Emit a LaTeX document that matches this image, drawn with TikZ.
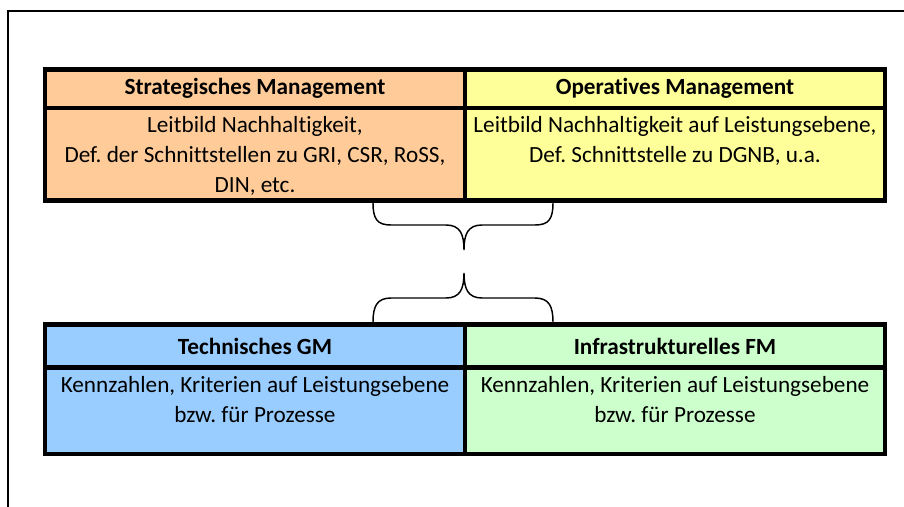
\documentclass[tikz,border=0pt]{standalone}
\usepackage{fontspec}
\setmainfont{Carlito}[Ligatures=NoCommon]
\usetikzlibrary{positioning}
\definecolor{peach}{HTML}{FFCC99}
\definecolor{paleyellow}{HTML}{FFFF99}
\definecolor{skyblue}{HTML}{99CCFF}
\definecolor{palegreen}{HTML}{CCFFCC}
\frenchspacing

\begin{document}
\begin{tikzpicture}[x=0.75pt,y=-0.75pt,
    cell/.style={draw,line width=3.4pt,minimum width=315pt,inner sep=0pt},
    headfont/.style={font=\fontsize{17.4}{22.5}\selectfont\bfseries},
    bodytext/.style={align=center,inner sep=0pt,font=\fontsize{17.4}{22.5}\selectfont},
    brace/.style={line width=1.1pt}]
      \def\leftcol{255}
      \def\rightcol{675}

      \useasboundingbox (0,0) rectangle (904,507);
      \draw[line width=1.5pt] (904,11) -- (8,11) -- (8,507);

      % upper table
      \node[cell,fill=peach,minimum height=28.9pt,headfont] (strat) at (\leftcol,88.75) {Strategisches Management};
      \node[cell,fill=paleyellow,minimum height=28.9pt,headfont] (oper) at (\rightcol,88.75) {Operatives Management};
      \node[cell,fill=peach,minimum height=69.4pt] (stratbody) at (\leftcol,154.25) {};
      \node[cell,fill=paleyellow,minimum height=69.4pt] (operbody) at (\rightcol,154.25) {};
      \node[bodytext,below=8pt of stratbody.north] (strattext) {Leitbild Nachhaltigkeit,\\Def. der Schnittstellen zu GRI, CSR, RoSS,\\DIN, etc.};
      \node[bodytext,below=8pt of operbody.north] (opertext) {Leitbild Nachhaltigkeit auf Leistungsebene,\\Def. Schnittstelle zu DGNB, u.a.};

      % lower table
      \node[cell,fill=skyblue,minimum height=32.25pt,headfont] (tech) at (\leftcol,346) {Technisches GM};
      \node[cell,fill=palegreen,minimum height=32.25pt,headfont] (infra) at (\rightcol,346) {Infrastrukturelles FM};
      \node[cell,fill=skyblue,minimum height=64.9pt] (techbody) at (\leftcol,410.75) {};
      \node[cell,fill=palegreen,minimum height=64.9pt] (infrabody) at (\rightcol,410.75) {};
      \node[bodytext,below=8pt of techbody.north] (techtext) {Kennzahlen, Kriterien auf Leistungsebene\\bzw. für Prozesse};
      \node[bodytext,below=8pt of infrabody.north] (infratext) {Kennzahlen, Kriterien auf Leistungsebene\\bzw. für Prozesse};

      % braces
      \coordinate (uptip) at (464,250);
      \coordinate (lowtip) at (464,273);
      \draw[brace] (stratbody.south -| 373,0) .. controls +(0,16) and +(-14,0) .. (391,225) -- (446,225)
        .. controls +(14,0) and +(0,-16) .. (uptip)
        .. controls +(0,-16) and +(-14,0) .. (482,225) -- (535,225)
        .. controls +(14,0) and +(0,16) .. (operbody.south -| 553,0);
      \draw[brace] (tech.north -| 373,0) .. controls +(0,-16) and +(-14,0) .. (391,298) -- (446,298)
        .. controls +(14,0) and +(0,16) .. (lowtip)
        .. controls +(0,16) and +(-14,0) .. (482,298) -- (535,298)
        .. controls +(14,0) and +(0,-16) .. (infra.north -| 553,0);
    \end{tikzpicture}
\end{document}
